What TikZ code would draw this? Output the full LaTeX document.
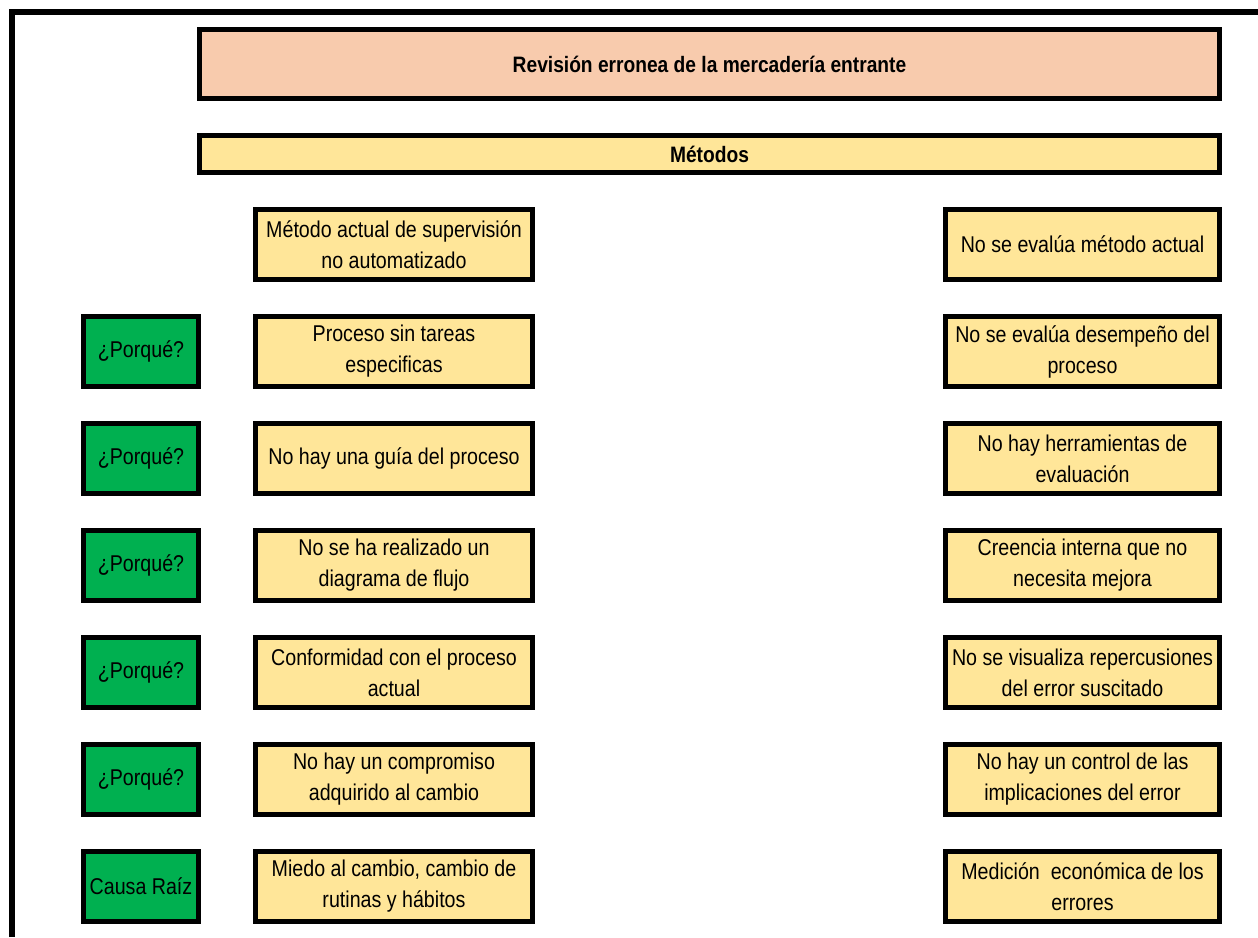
\documentclass[tikz,border=0pt]{standalone}
\usepackage{fontspec}
\setmainfont{Liberation Sans}[FakeStretch=0.86]
\definecolor{peach}{HTML}{F8CBAD}
\definecolor{sand}{HTML}{FFE699}
\definecolor{leaf}{HTML}{00B050}
\begin{document}
\begin{tikzpicture}[x=0.02cm,y=-0.02cm,
	box/.style={rectangle, draw=black, line width=2.8pt, inner sep=1pt, align=center, font=\fontsize{13}{17.6}\selectfont},
	causebox/.style={box, fill=sand, minimum width=5.54cm, minimum height=1.4cm},
	whybox/.style={box, fill=leaf, minimum width=2.3cm, minimum height=1.4cm}
	]
	\useasboundingbox (0,0) rectangle (1258,937);
	\draw[line width=3.4pt] (12,937) -- (12,12) -- (1258,12);
	\path
	(709.5,64)  node[box,fill=peach,minimum width=20.4cm,minimum height=1.38cm,font=\fontsize{12.7}{17.6}\selectfont\bfseries]  (title) {Revisión erronea de la mercadería entrante}
	(709.5,154)  node[box,fill=sand,minimum width=20.4cm,minimum height=0.74cm,font=\fontsize{12.7}{17.6}\selectfont\bfseries]  (met) {Métodos}
	;
	\path
	(394,244.5)  node[causebox]  (l1) {Método actual de supervisión\\no automatizado}
	(394,351.5)  node[causebox]  (l2) {Proceso sin tareas\\especificas}
	(394,458.5)  node[causebox]  (l3) {No hay una guía del proceso}
	(394,565.5)  node[causebox]  (l4) {No se ha realizado un\\diagrama de flujo}
	(394,672.5)  node[causebox]  (l5) {Conformidad con el proceso\\actual}
	(394,779.5)  node[causebox]  (l6) {No hay un compromiso\\adquirido al cambio}
	(394,886.5)  node[causebox]  (l7) {Miedo al cambio, cambio de\\rutinas y hábitos}
	;
	\path
	(1082.5,244.5)  node[causebox,minimum width=5.48cm]  (r1) {No se evalúa método actual}
	(1082.5,351.5)  node[causebox,minimum width=5.48cm]  (r2) {No se evalúa desempeño del\\proceso}
	(1082.5,458.5)  node[causebox,minimum width=5.48cm]  (r3) {No hay herramientas de\\evaluación}
	(1082.5,565.5)  node[causebox,minimum width=5.48cm]  (r4) {Creencia interna que no\\necesita mejora}
	(1082.5,672.5)  node[causebox,minimum width=5.48cm]  (r5) {No se visualiza repercusiones\\del error suscitado}
	(1082.5,779.5)  node[causebox,minimum width=5.48cm]  (r6) {No hay un control de las\\implicaciones del error}
	(1082.5,886.5)  node[causebox,minimum width=5.48cm]  (r7) {Medición\ \ económica de los\\errores}
	;
	\foreach \k in {2,...,6}
	\node[whybox] (w\k) at (141,244.5+107*\k-107) {¿Porqué?};
	\node[whybox] (w7) at (141,886.5) {Causa Raíz};
\end{tikzpicture}
\end{document}
